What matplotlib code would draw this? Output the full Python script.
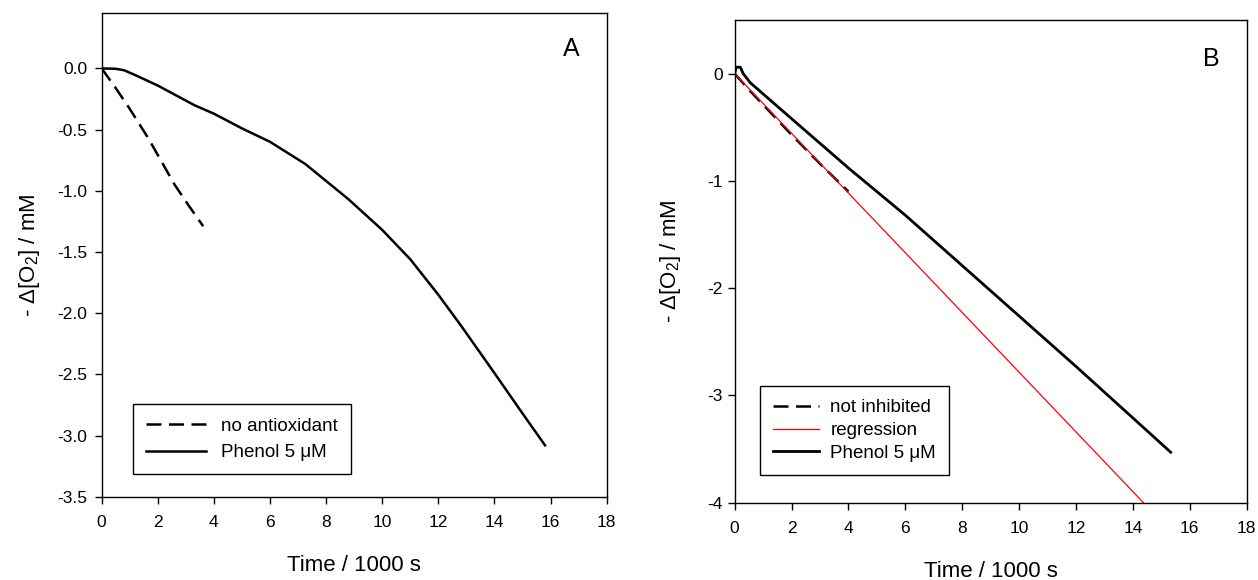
#Oxygen consumption plots, panels A and B

#importing the libraries
import numpy as np
import matplotlib
matplotlib.use('Agg')
import matplotlib.pyplot as plt

plt.rcParams['font.family'] = ['Liberation Sans', 'DejaVu Sans']
plt.rcParams['mathtext.fontset'] = 'custom'
plt.rcParams['mathtext.rm'] = 'Liberation Sans'
plt.rcParams['mathtext.default'] = 'regular'
plt.rcParams['axes.unicode_minus'] = False

#panel A data (time in 1000 s, -delta O2 in mM)
a_noantiox_t = [0, 0.5, 1.0, 1.66, 2.6, 3.1, 3.62]
a_noantiox_o2 = [0, -0.16, -0.33, -0.57, -0.95, -1.12, -1.29]
a_phenol_t = [0, 0.5, 0.8, 1.2, 2, 3.3, 4, 5, 6, 7.25, 8, 8.8, 10, 11, 12, 12.8, 14, 15, 15.8]
a_phenol_o2 = [0, -0.003, -0.015, -0.055, -0.14, -0.30, -0.37, -0.49, -0.60, -0.78,
               -0.92, -1.07, -1.32, -1.56, -1.85, -2.10, -2.49, -2.82, -3.08]

#panel B data
b_notinh_t = [0, 0.5, 1, 2, 3, 4]
b_notinh_o2 = [0, -0.15, -0.29, -0.57, -0.84, -1.1]
b_reg_t = [0, 14.37]
b_reg_o2 = [0, -4.0]
b_phenol_t = [0, 0.05, 0.2, 0.3, 0.55, 2, 4, 6, 8, 10, 12, 14, 15.33]
b_phenol_o2 = [0.0, 0.06, 0.06, 0.0, -0.085, -0.42, -0.88, -1.32, -1.79, -2.26, -2.73, -3.21, -3.53]

x_ticks = np.arange(0, 19, 2)
a_yticks = np.arange(-3.5, 0.01, 0.5)
b_yticks = np.arange(-4, 0.5, 1)

ylab = '- Δ[O$_2$] / mM'
xlab = 'Time / 1000 s'

fig = plt.figure(figsize=(12.58, 5.8), dpi=100)
axA = fig.add_axes([0.0808, 0.1436, 0.4015, 0.8334])
axB = fig.add_axes([0.584, 0.1333, 0.407, 0.8322])

def style(ax, ypad):
    ax.tick_params(direction='out', length=5, width=1, labelsize=12.5,
                   top=False, right=False, colors='black')
    ax.tick_params(axis='x', pad=8)
    ax.tick_params(axis='y', pad=ypad)
    for s in ax.spines.values():
        s.set_linewidth(1)
        s.set_color('black')

#Panel A
axA.plot(a_noantiox_t, a_noantiox_o2, color='black', lw=1.8, dashes=(6, 3), label='no antioxidant')
axA.plot(a_phenol_t, a_phenol_o2, color='black', lw=1.8, label='Phenol 5 μM')
axA.set_xlim(0, 18)
axA.set_ylim(-3.5, 0.45)
axA.set_xticks(x_ticks)
axA.set_yticks(a_yticks)
axA.set_yticklabels(['%.1f' % v for v in a_yticks])
style(axA, 5.5)
axA.set_xlabel(xlab, fontsize=16)
axA.set_ylabel(ylab, fontsize=16)
axA.xaxis.set_label_coords(0.5, -0.120)
axA.yaxis.set_label_coords(-0.118, 0.5)
axA.text(0.929, 0.926, 'A', transform=axA.transAxes, fontsize=18, ha='center', va='center')
leg = axA.legend(loc='lower left', bbox_to_anchor=(0.0626, 0.0463), borderaxespad=0,
                 fontsize=13.5, frameon=True, fancybox=False, edgecolor='black',
                 handlelength=3.2, handletextpad=0.8, borderpad=0.7, labelspacing=0.5)
leg.get_frame().set_linewidth(1)
leg.get_frame().set_alpha(1)

#Panel B
axB.plot(b_notinh_t, b_notinh_o2, color='black', lw=1.8, dashes=(6, 3), label='not inhibited')
axB.plot(b_reg_t, b_reg_o2, color='red', lw=0.9, label='regression')
axB.plot(b_phenol_t, b_phenol_o2, color='black', lw=2.0, label='Phenol 5 μM')
axB.set_xlim(0, 18)
axB.set_ylim(-4, 0.5)
axB.set_xticks(x_ticks)
axB.set_yticks(b_yticks)
style(axB, 3.5)
axB.set_xlabel(xlab, fontsize=16)
axB.set_ylabel(ylab, fontsize=16)
axB.xaxis.set_label_coords(0.5, -0.121)
axB.yaxis.set_label_coords(-0.10, 0.5)
axB.text(0.93, 0.92, 'B', transform=axB.transAxes, fontsize=18, ha='center', va='center')
leg = axB.legend(loc='lower left', bbox_to_anchor=(0.0494, 0.0574), borderaxespad=0,
                 fontsize=13.5, frameon=True, fancybox=False, edgecolor='black',
                 handlelength=2.45, handletextpad=0.6, borderpad=0.7, labelspacing=0.3)
leg.get_frame().set_linewidth(1)
leg.get_frame().set_alpha(1)

plt.savefig('out.png', dpi=100)
